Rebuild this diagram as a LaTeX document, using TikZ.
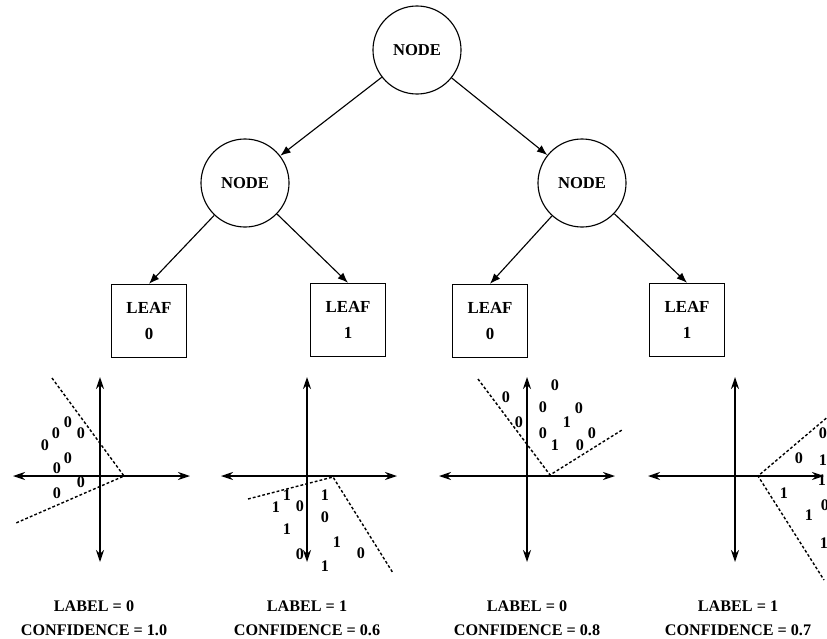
\documentclass[tikz,border=0pt]{standalone}
\usepackage{fontspec}
\setmainfont{Liberation Serif}
\usetikzlibrary{arrows.meta,positioning}
\tikzset{
  >={Latex[length=2.6mm,width=2mm]},
  split/.style={circle,draw,thick,minimum size=2.2cm,inner sep=0pt,
    font=\bfseries\fontsize{11.8}{13}\selectfont},
  leaf/.style={draw,thick,minimum width=1.87cm,minimum height=1.83cm,align=center,
    font=\bfseries\fontsize{12}{18}\selectfont},
  edge/.style={->,thick},
  axis/.style={{Stealth[length=3mm,width=2mm]}-{Stealth[length=3mm,width=2mm]},line width=1.2pt},
  bound/.style={line width=1pt,dash pattern=on 2pt off 1.5pt},
  digit/.style={inner sep=0pt,font=\bfseries\fontsize{11.5}{12}\selectfont},
  result/.style={align=center,font=\bfseries\fontsize{11.5}{17}\selectfont}
}
\begin{document}
\begin{tikzpicture}[x=0.025cm,y=-0.025cm]
  \useasboundingbox (0,0) rectangle (827,638);
  % tree
  \node[split] (root) at (417,50) {NODE};
  \node[split] (nl) at (245,183) {NODE};
  \node[split] (nr) at (582,183) {NODE};
  \node[leaf] (l0) at (149,321) {LEAF\\0};
  \node[leaf] (l1) at (348,320) {LEAF\\1};
  \node[leaf] (l2) at (490,321) {LEAF\\0};
  \node[leaf] (l3) at (687,320) {LEAF\\1};
  \draw[edge] (root) -- (nl);
  \draw[edge] (root) -- (nr);
  \draw[edge] (nl) -- (l0.north);
  \draw[edge] (nl) -- (l1.north);
  \draw[edge] (nr) -- (l2.north);
  \draw[edge] (nr) -- (l3.north);

  % panel 1
  \draw[axis] (13,476) -- (190,476);
  \draw[axis] (100,377) -- (100,562);
  \draw[bound] (52,378) -- (124,476) -- (16,523);
  \foreach \x/\y in {68/422,56/433,45/445,81/433,68/458,57/468,81/482,57/493}
    \node[digit] at (\x,\y) {0};
  \node[result] (r0) at (94,618) {LABEL = 0\\CONFIDENCE = 1.0};

  % panel 2
  \draw[axis] (221,476) -- (397,476);
  \draw[axis] (307,377) -- (307,562);
  \draw[bound] (248,499) -- (333,477) -- (393,573);
  \foreach \x/\y/\d in {287/495/1,276/507/1,300/506/0,325/495/1,325/517/0,
    287/529/1,337/542/1,300/554/0,361/553/0,325/566/1}
    \node[digit] at (\x,\y) {\d};
  \node[result] (r1) at (307,618) {LABEL = 1\\CONFIDENCE = 0.6};

  % panel 3
  \draw[axis] (439,476) -- (615,476);
  \draw[axis] (527,377) -- (527,562);
  \draw[bound] (478,379) -- (550,475) -- (622,430);
  \foreach \x/\y/\d in {555/385/0,506/397/0,543/407/0,579/408/0,567/422/1,
    519/422/0,543/433/0,592/433/0,555/445/1,580/445/0}
    \node[digit] at (\x,\y) {\d};
  \node[result] (r2) at (527,618) {LABEL = 0\\CONFIDENCE = 0.8};

  % panel 4
  \draw[axis] (648,476) -- (824,476);
  \draw[axis] (735,377) -- (735,562);
  \draw[bound] (830,415) -- (758,476) -- (824,580);
  \foreach \x/\y/\d in {823/433/0,799/458/0,823/460/1,822/480/1,784/493/1,
    825/505/0,809/515/1,824/543/1}
    \node[digit] at (\x,\y) {\d};
  \node[result] (r3) at (738,618) {LABEL = 1\\CONFIDENCE = 0.7};
\end{tikzpicture}
\end{document}
